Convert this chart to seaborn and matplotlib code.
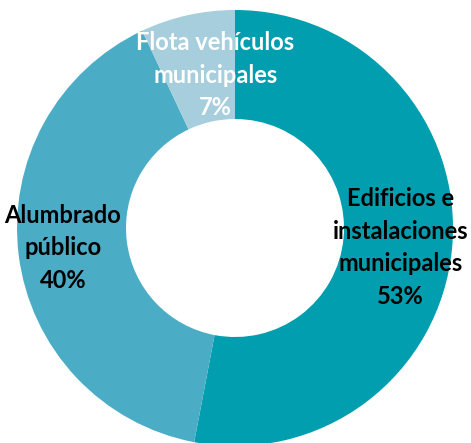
import matplotlib
matplotlib.use("Agg")
import matplotlib.pyplot as plt
import seaborn as sns

# Energy consumption share by municipal sector
categories = ["Edificios e\ninstalaciones\nmunicipales", "Alumbrado\npúblico", "Flota vehículos\nmunicipales"]
shares = [53, 40, 7]
colors = ["#009EAE", "#4BACC6", "#A7CEDC"]
text_colors = ["black", "black", "white"]
label_pos = [(0.76, -0.09), (-0.79, -0.09), (-0.09, 0.70)]

sns.set_theme(style="white")
plt.rcParams["font.family"] = ["Lato", "DejaVu Sans"]

fig = plt.figure(figsize=(4.71, 4.43), dpi=100)
ax = fig.add_axes([0, 0, 1, 1])

ax.pie(shares, colors=colors, startangle=90, counterclock=False,
       radius=1.0, wedgeprops=dict(width=0.5, linewidth=0))

for cat, val, (x, y), tc in zip(categories, shares, label_pos, text_colors):
    ax.text(x, y, f"{cat}\n{val}%", ha="center", va="center",
            fontsize=17, fontweight="bold", color=tc, linespacing=1.5)

ax.set_xlim(-235 / 218, (471 - 235) / 218)
ax.set_ylim(-215 / 218, 228 / 218)
ax.set_aspect("equal")
ax.axis("off")

fig.savefig("out.png", dpi=100, facecolor="white")
